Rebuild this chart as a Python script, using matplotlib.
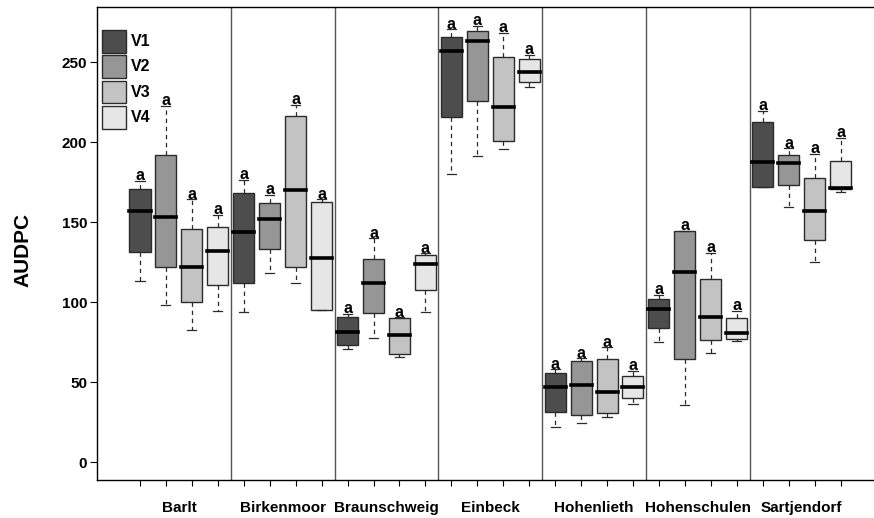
#!/usr/bin/env python3
"""AUDPC boxplots for four varieties at seven sites (R base-graphics look)."""

import matplotlib

matplotlib.use("Agg")

import matplotlib.pyplot as plt
from matplotlib.patches import Rectangle

SITES = ["Barlt", "Birkenmoor", "Braunschweig", "Einbeck",
         "Hohenlieth", "Hohenschulen", "Sartjendorf"]
VARIETIES = ["V1", "V2", "V3", "V4"]

# one row per site, one column per variety (V1..V4)
LOW = [
    [113.3, 98.3, 82.9, 94.6],
    [93.8, 118.5, 111.9, 95.2],
    [70.8, 77.5, 66.0, 93.8],
    [180.2, 191.6, 196.0, 234.8],
    [22.1, 24.8, 28.3, 36.4],
    [75.2, 35.8, 68.5, 75.8],
    [172.3, 159.6, 125.4, 169.1],
]
Q1 = [
    [131.6, 121.9, 100.2, 110.8],
    [111.9, 133.1, 121.9, 95.2],
    [73.5, 93.1, 67.9, 107.5],
    [216.0, 226.0, 200.8, 237.7],
    [31.6, 29.8, 31.0, 40.4],
    [83.8, 64.4, 76.4, 76.9],
    [172.3, 173.5, 138.9, 170.6],
]
MEDIAN = [
    [157.0, 153.3, 121.9, 132.3],
    [144.1, 151.9, 170.0, 127.5],
    [81.4, 111.9, 79.4, 123.9],
    [257.0, 263.3, 221.9, 243.9],
    [47.1, 48.5, 44.1, 47.1],
    [96.0, 118.9, 91.0, 80.6],
    [187.9, 187.0, 156.9, 171.4],
]
Q3 = [
    [170.6, 192.0, 145.6, 146.9],
    [168.5, 161.9, 216.4, 162.7],
    [90.8, 127.3, 90.0, 129.8],
    [266.0, 269.8, 253.1, 251.9],
    [55.6, 63.5, 64.4, 54.1],
    [101.9, 144.8, 114.6, 90.2],
    [212.5, 192.0, 177.9, 188.1],
]
HIGH = [
    [175.8, 222.7, 164.4, 154.6],
    [176.4, 167.1, 223.3, 164.4],
    [92.7, 140.0, 90.6, 130.6],
    [270.6, 272.7, 268.5, 254.6],
    [58.1, 65.0, 71.9, 57.2],
    [104.6, 144.8, 131.0, 94.8],
    [219.8, 196.3, 193.0, 202.9],
]
LETTERS = [
    ["a", "a", "a", "a"],
    ["a", "a", "a", "a"],
    ["a", "a", "a", "a"],
    ["a", "a", "a", "a"],
    ["a", "a", "a", "a"],
    ["a", "a", "a", "a"],
    ["a", "a", "a", "a"],
]
Y_TICKS = [0, 50, 100, 150, 200, 250]

FILLS = ["#4d4d4d", "#969696", "#c3c3c3", "#e6e6e6"]
EDGE = "#2b2b2b"
SEP = "#555555"
FONT = ["Liberation Sans", "DejaVu Sans"]


def main():
    plt.rcParams["font.family"] = FONT
    plt.rcParams["font.weight"] = "bold"

    fig = plt.figure(figsize=(8.74, 5.18), dpi=100)
    W, H = 874, 518
    left, right, top, bottom = 97, 874, 7, 480
    ax = fig.add_axes([left / W, 1 - bottom / H, (right - left) / W, (bottom - top) / H])

    n_var = len(VARIETIES)
    stats, positions, colors = [], [], []
    for i, site in enumerate(SITES):
        for j in range(n_var):
            stats.append({
                "whislo": LOW[i][j], "q1": Q1[i][j], "med": MEDIAN[i][j],
                "q3": Q3[i][j], "whishi": HIGH[i][j], "fliers": [],
            })
            positions.append(i * n_var + j + 1)
            colors.append(FILLS[j])

    parts = ax.bxp(
        stats, positions=positions, widths=0.81, patch_artist=True,
        showfliers=False, capwidths=0.35,
        boxprops={"edgecolor": EDGE, "linewidth": 1.0},
        medianprops={"color": "black", "linewidth": 2.6, "solid_capstyle": "projecting"},
        whiskerprops={"color": EDGE, "linewidth": 0.9, "linestyle": (0, (3.5, 3))},
        capprops={"color": EDGE, "linewidth": 0.9},
        manage_ticks=False,
    )
    for box, c in zip(parts["boxes"], colors):
        box.set_facecolor(c)

    # significance letters above the upper whisker
    for k, s in enumerate(stats):
        i, j = divmod(k, n_var)
        ax.text(positions[k], s["whishi"] + 0.4, LETTERS[i][j], ha="center",
                va="baseline", fontsize=11.5, fontweight="bold")

    # separators between sites
    for i in range(1, len(SITES)):
        ax.axvline(i * n_var + 0.5, color=SEP, lw=1.0)

    ax.set_xlim(-0.657, 29.29)
    ax.set_ylim(-11.06, 284.6)

    ax.set_xticks(positions, labels=[""] * len(positions))
    ax.set_xticks([i * n_var + 2.5 for i in range(len(SITES))], labels=SITES, minor=True)
    ax.tick_params(axis="x", which="major", length=4, width=0.8)
    ax.tick_params(axis="x", which="minor", length=0, pad=15, labelsize=11)
    ax.set_yticks(Y_TICKS)
    ax.tick_params(axis="y", length=5, width=0.8, pad=2, labelsize=11)
    for lab in ax.get_xticklabels(minor=True) + ax.get_yticklabels():
        lab.set_fontweight("bold")

    ax.spines["right"].set_visible(False)
    for sp in ("left", "bottom", "top"):
        ax.spines[sp].set_linewidth(1.0)

    fig.text(23 / W, 1 - 250 / H, "AUDPC", rotation=90, ha="center", va="center",
             fontsize=15, fontweight="bold")

    # legend drawn by hand in pixel units of the figure
    aw, ah = right - left, bottom - top
    for j, (name, c) in enumerate(zip(VARIETIES, FILLS)):
        y0 = 30 + j * 25.3
        ax.add_patch(Rectangle(
            ((102.3 - left) / aw, 1 - (y0 + 22.7 - top) / ah), 23.4 / aw, 22.7 / ah,
            transform=ax.transAxes, facecolor=c, edgecolor=EDGE, lw=1.0,
            clip_on=False, zorder=5,
        ))
        ax.text((130.7 - left) / aw, 1 - (y0 + 11.5 - top) / ah, name,
                transform=ax.transAxes, ha="left", va="center",
                fontsize=11.5, fontweight="bold", zorder=5)

    fig.savefig("out.png", dpi=100)
    plt.close(fig)


if __name__ == "__main__":
    main()
